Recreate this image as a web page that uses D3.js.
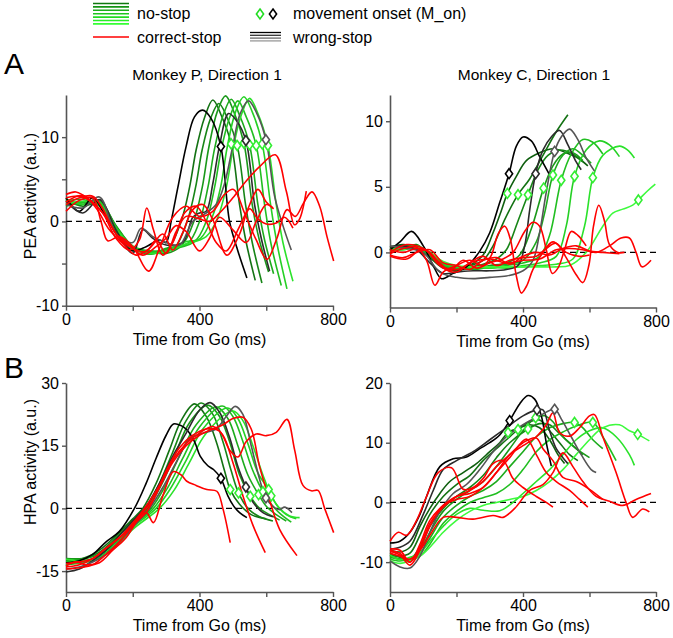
<!DOCTYPE html>
<html><head><meta charset="utf-8">
<script src="https://cdn.jsdelivr.net/npm/d3@7"></script>
<style>body{margin:0;background:#fff}svg{display:block}text{font-family:"Liberation Sans",Arial,sans-serif;fill:#000}</style>
</head><body><svg id="c" width="673" height="638"></svg>
<script>
// ---------------- DATA ----------------
const xTicks = [0, 200, 400, 600, 800];
const xTickLabels = [0, 400, 800];
const greenShades = ['#0f5f0f','#137213','#178517','#1a981a','#1dab1d','#21be21','#25d025','#2be22b','#3dfa3d'];
const grayShades = ['#000000','#2b2b2b','#555555'];
const legendGreen = ['#0f7a0f','#149414','#19ad19','#1ec61e','#22dd22','#28ee28','#33ff33'];
const legendGray = ['#000000','#333333','#666666','#999999'];

// Panel A left: PEA, Monkey P
const peaP_noStop = [
 [[0,2.2],[50,2],[100,2.4],[150,-0.5],[200,-3],[250,-3.8],[290,-3.5],[310,-3],[345,0],[370,4],[390,8.5],[415,12.3],[440,14.4],[465,12.6],[495,9.2],[520,2],[540,-2.5],[567,-7]],
 [[0,2.6],[50,1.8],[100,2.2],[150,-1],[200,-3.2],[250,-3.5],[300,-3.6],[328,-3],[363,0],[388,4],[408,8.5],[433,12.2],[458,14],[483,12.3],[513,9],[538,2],[558,-2.5],[587,-7.3]],
 [[0,1.8],[50,2.3],[100,2],[150,-0.8],[200,-3.4],[250,-3.6],[300,-3.8],[348,-2.8],[383,0],[408,4],[428,8.8],[453,13],[478,14.9],[503,13],[533,9.3],[558,2],[578,-2],[607,-6]],
 [[0,2.4],[50,2.6],[100,1.8],[150,-1.2],[200,-3.1],[250,-3.9],[300,-3.2],[365,-2.6],[400,0],[425,4],[445,8.6],[470,12.5],[495,14.5],[520,12.6],[550,9.1],[575,2],[595,-2.2],[622,-6.2]],
 [[0,2],[50,2.2],[100,2.5],[150,-0.6],[200,-2.9],[250,-3.5],[300,-3.4],[385,-2.4],[420,0],[445,4],[465,8.5],[490,12.3],[515,14.3],[540,12.4],[570,9],[595,2],[615,-2.8],[645,-7.6]],
 [[0,2.7],[50,2],[100,2.3],[150,-1],[200,-3.3],[250,-3.7],[300,-3.5],[350,-2.5],[403,-2],[438,0.5],[463,4],[483,8.8],[508,13],[533,14.8],[558,13],[588,9.2],[613,2],[633,-2.8],[662,-8]],
 [[0,2.1],[50,2.4],[100,2],[150,-0.9],[200,-3],[250,-3.8],[300,-3.6],[350,-2.8],[420,-1.8],[455,0.5],[480,4],[500,8.5],[525,12.6],[550,14.6],[575,12.8],[605,9],[630,2],[650,-2.5],[680,-7.1]]
];
const peaP_noStopOnset = [[495,9.2],[513,9.0],[533,9.3],[550,9.1],[570,9.0],[588,9.2],[605,9.0]];
const peaP_wrongStop = [
 [[0,2.8],[40,1.2],[80,2.8],[120,0.5],[160,-2],[200,-3.5],[240,-3],[280,-2.2],[300,-2.5],[315,0],[335,4],[360,8.9],[385,12.4],[409,13.2],[435,12.2],[464,8.9],[490,0],[515,-3.5],[542,-6.7]],
 [[0,2.4],[50,1],[100,2.6],[150,-1],[200,-3.8],[230,-1],[260,-2],[300,-2.8],[350,-2.5],[380,0.5],[400,1],[420,1.2],[440,4.5],[460,9],[487,12.8],[510,12],[539,9.6],[565,2],[585,-2],[610,-5.9]],
 [[0,2],[50,1.6],[100,2.9],[150,-1.5],[200,-2.5],[225,-0.8],[260,-1.8],[300,-2.5],[340,-2.8],[380,0],[420,1],[450,2],[475,4.5],[500,9],[522,12.8],[547,14.3],[572,12.8],[599,9.7],[625,3],[650,-0.5],[675,-3.4]]
];
const peaP_wrongStopOnset = [[464,8.9],[539,9.6],[599,9.7]];
const peaP_correctStop = [
 [[0,3.2],[30,3.5],[70,2.6],[110,1],[150,-2],[190,-3.4],[220,-2.2],[242,1.6],[262,-1],[290,-4],[320,-2.5],[355,1],[390,1.8],[420,0],[450,-2.5],[480,-3.5],[515,-1],[545,1.5],[575,3.8],[600,2.3],[622,1.5]],
 [[0,1.2],[40,2.5],[80,2.8],[105,0],[125,-2.3],[160,-1.8],[200,-3],[247,-5.9],[280,-3.2],[320,0.5],[360,1.8],[400,0.6],[440,1.2],[475,3.2],[502,3.8],[535,1],[570,-2.2],[602,-4.5],[632,-2],[662,1.4],[687,0.6],[712,2.2],[737,3.5],[760,1.8],[782,-1.8],[802,-4.7]],
 [[0,2.8],[40,3],[80,2.2],[120,0.5],[160,-2],[200,-3.2],[240,-3.6],[270,-2.2],[300,-3.8],[330,-1.2],[360,0.6],[400,0.3],[430,0],[460,1],[500,2.8],[540,4.8],[580,6.5],[627,7.9],[660,3.6],[685,-0.4],[700,0.3],[720,3.6]],
 [[0,2.3],[50,3.1],[90,1.6],[130,-1],[170,-2.6],[210,-4],[250,-3.2],[290,-1.5],[320,-3.4],[350,-1.3],[380,1.4],[410,2],[440,0.2],[482,-4],[520,-1.5],[550,1.5],[575,0.3],[600,-0.3],[630,-0.2],[655,0.5],[680,-0.8]],
 [[0,2],[40,2.8],[80,3],[110,1.5],[150,-1.5],[190,-2.8],[230,-4],[270,-3],[300,-2],[330,-0.5],[360,-1.2],[400,-3.5],[430,-2],[460,0.5],[500,-1],[540,-2.5],[570,0],[600,2],[620,1.6]]
];

// Panel A right: PEA, Monkey C
const peaC_noStop = [
 [[0,0.4],[40,0.6],[80,0.3],[120,-0.4],[160,-1.2],[200,-1.4],[240,-1],[280,-0.2],[310,1.5],[335,3.2],[353,4.5],[380,5.8],[410,7],[450,7.6],[490,7.9],[530,7.6],[565,7.2],[595,6.6]],
 [[0,0.2],[40,0.5],[80,0.5],[120,-0.2],[160,-1],[200,-1.3],[240,-1],[280,-0.6],[310,0.5],[345,2.5],[385,4.4],[420,5.6],[460,7.4],[500,9.2],[535,10.5]],
 [[0,0.3],[40,0.3],[80,0.6],[120,-0.3],[160,-1.1],[200,-1.2],[240,-1.1],[280,-0.9],[320,-0.5],[350,0.2],[385,2.4],[415,4.4],[445,6.3],[475,7.4],[510,7.8],[550,7.5],[580,6.9]],
 [[0,0.1],[40,0.4],[80,0.5],[120,-0.1],[160,-0.9],[200,-1.3],[250,-1.2],[300,-1],[350,-0.8],[390,-0.2],[425,1.8],[462,4.9],[490,6.6],[520,7.5],[550,7.6],[580,7]],
 [[0,0.2],[40,0.2],[80,0.4],[120,0],[160,-0.8],[200,-1.1],[250,-1.3],[300,-1.1],[350,-0.9],[400,-0.6],[440,0.8],[465,3],[490,5.9],[520,7.4],[550,7.9],[580,7.4],[605,6.8]],
 [[0,0.3],[40,0.5],[80,0.3],[120,-0.2],[160,-1],[200,-1.2],[250,-1.1],[300,-1.2],[350,-1],[400,-0.8],[450,-0.3],[480,1.3],[515,5.5],[545,7.5],[580,8.6],[610,8.4],[640,7.5]],
 [[0,0.2],[40,0.4],[80,0.4],[120,-0.1],[160,-0.9],[200,-1.1],[250,-1.2],[300,-1.1],[350,-1.2],[400,-1],[450,-0.8],[500,-0.3],[530,2],[555,5.8],[590,7.8],[630,8.5],[660,8.2],[690,7.3]],
 [[0,0.3],[40,0.3],[80,0.5],[120,0],[160,-0.8],[200,-1.1],[250,-1.1],[300,-1.2],[350,-1.1],[400,-1.1],[450,-1],[500,-0.9],[550,-0.5],[585,2],[610,5.7],[640,7.4],[690,8.1],[715,7.8],[735,7.2]],
 [[0,0.1],[40,0.2],[80,0.4],[120,0],[160,-0.7],[200,-1],[250,-1.1],[300,-1.1],[350,-1.1],[400,-1.1],[450,-1.1],[500,-1.1],[540,-1],[590,0],[640,2],[670,3],[700,3.3],[730,3.6],[747,4],[775,4.7],[798,5.2]]
];
const peaC_noStopOnset = [[353,4.5],[385,4.4],[415,4.4],[462,4.9],[490,5.9],[515,5.5],[555,5.8],[610,5.7],[747,4.0]];
const peaC_wrongStop = [
 [[0,0.2],[30,0.8],[65,1.6],[100,0.5],[130,-1],[155,-2],[190,-1.6],[230,-1.1],[270,0.1],[300,1.5],[330,3.8],[358,6],[380,8.1],[400,8.8],[425,8.5],[450,7.3],[478,6]],
 [[0,0.4],[40,0.5],[80,0.2],[120,-0.8],[160,-1.6],[200,-1.5],[250,-1.4],[300,-1.4],[350,-1.3],[385,-1],[405,0.5],[420,3.2],[438,6],[460,7.8],[485,8.8],[510,9.3],[535,8.2],[560,6.9],[575,6.3]],
 [[0,0.5],[50,0.3],[100,0],[150,-1.5],[200,-1.9],[250,-2],[300,-1.9],[350,-1.8],[400,-1.4],[430,-0.6],[450,1.5],[470,4.6],[495,7.7],[515,8.8],[540,9.4],[565,8.6],[590,7.2],[615,6.2]]
];
const peaC_wrongStopOnset = [[358,6.0],[438,6.0],[495,7.7]];
const peaC_correctStop = [
 [[0,-0.1],[40,0.3],[80,0.4],[110,-0.6],[135,-2.5],[160,-1.5],[200,-1],[240,-0.6],[280,-1],[305,-0.2],[325,1.4],[345,2],[362,1],[380,-1.8],[395,-3.1],[410,-2.6],[430,-1.3],[460,0],[490,0.8],[530,0],[570,-0.3],[600,-0.2]],
 [[0,0],[50,0.6],[100,0.3],[150,-0.8],[180,-1.4],[220,-0.6],[260,-1.2],[300,-0.8],[340,-0.5],[370,0],[405,1.6],[430,2.3],[450,2],[470,0.2],[488,-1.6],[505,-1.2],[525,0.2],[545,1.6],[565,1.3],[590,0.5]],
 [[0,0.2],[40,0],[80,0.3],[120,0],[160,-1.2],[200,-1.5],[240,-0.8],[280,-0.3],[320,-1],[360,-0.6],[400,-0.4],[440,-0.3],[470,0.3],[500,0.7],[530,-0.4],[560,-1.7],[580,-2.3],[598,-1],[612,2],[628,3.6],[645,2.4],[660,0.6],[685,0],[705,0]],
 [[0,-0.3],[50,-0.5],[100,0.3],[150,-1],[200,-1.3],[250,-0.7],[300,-0.5],[350,-0.8],[400,-0.6],[450,-0.5],[500,0.2],[540,0.3],[580,0.2],[620,0],[660,0.5],[695,1.1],[720,1.1],[740,0],[758,-1.1],[785,-0.6]],
 [[0,-0.2],[40,-0.4],[80,0],[120,0.2],[160,-0.8],[200,-1],[240,-1.3],[280,-0.6],[320,-0.4],[360,-0.9],[400,-0.3],[440,0],[480,-0.2],[520,0.3],[560,0.5],[600,0.1],[640,0],[690,-0.1]]
];

// Panel B left: HPA, Monkey P
const hpaP_noStop = [
 [[0,-12.5],[50,-12],[100,-10],[150,-6.5],[200,-2.5],[230,0],[270,6],[310,14],[345,21],[385,25],[420,22],[450,16],[475,9],[492,4.5],[520,1],[555,-1.5],[600,-2.5]],
 [[0,-13],[50,-12.3],[100,-10.5],[150,-7],[200,-3],[240,0],[280,6],[320,13.5],[360,21],[405,25.2],[440,22.5],[470,16],[495,9],[517,3.7],[545,0],[580,-2],[620,-3]],
 [[0,-12],[50,-12],[100,-11],[150,-8],[200,-3.5],[245,0],[285,5.5],[325,12.5],[370,20.5],[425,24.7],[460,22],[490,16],[520,8],[552,2.9],[580,0],[610,-1.5],[640,-2.8]],
 [[0,-13.5],[50,-12.8],[100,-11.3],[150,-8],[200,-4],[255,0],[295,5],[340,12.5],[390,20],[450,24.3],[485,21.5],[515,15],[545,8],[577,3.3],[600,0.5],[630,-1.5],[660,-3]],
 [[0,-12.8],[50,-12.5],[100,-11.6],[150,-8.5],[200,-4.2],[262,0],[305,5],[350,12],[400,19.5],[468,24.5],[500,22],[530,16],[560,9],[590,4],[615,1],[645,-1.5],[675,-3.3]],
 [[0,-13.2],[50,-13],[100,-12],[150,-9],[200,-4.5],[270,0],[315,5],[360,11.5],[410,19],[485,24],[515,21.5],[545,15.5],[575,8.5],[607,4.5],[630,1],[660,-1.5],[690,-2.5]],
 [[0,-12.2],[50,-12.5],[100,-11.8],[150,-9.2],[200,-5],[280,0],[325,4.5],[370,11],[420,18],[500,23.3],[530,21],[560,15],[590,8],[615,3],[640,0],[670,-1.8],[700,-2.2]]
];
const hpaP_noStopOnset = [[492,4.5],[517,3.7],[552,2.9],[577,3.3],[590,4],[607,4.5],[615,3]];
const hpaP_wrongStop = [
 [[0,-13],[40,-12.5],[80,-11],[120,-8],[160,-5.5],[205,0],[240,6],[270,12],[300,17.5],[322,20.2],[345,19.8],[362,18.8],[385,16],[402,12.5],[425,10.2],[442,9.3],[464,7.2],[485,3],[502,0.6],[520,-1],[542,-2.2]],
 [[0,-15.2],[40,-14.5],[80,-12.5],[120,-10],[160,-6.5],[200,-3],[240,0.5],[280,6],[320,12.5],[360,18],[400,23.5],[432,25.3],[460,23],[490,17],[515,10],[539,5.1],[560,1.5],[590,-1],[620,-2]],
 [[0,-14.5],[40,-14],[80,-12.8],[120,-11],[160,-8],[200,-4.5],[250,0],[290,5],[330,11],[370,16.5],[410,18],[450,19],[480,22],[507,24.4],[530,22.5],[555,15],[580,7],[599,2.5],[620,0.5],[640,-0.3],[655,0.3],[677,-1]]
];
const hpaP_wrongStopOnset = [[464,7.2],[539,5.1],[599,2.5]];
const hpaP_correctStop = [
 [[0,-14],[40,-13.5],[80,-12],[120,-9.5],[160,-7],[200,-4],[240,-1],[262,-3.4],[290,3],[322,8.8],[345,8],[362,6.5],[390,5.5],[422,4.5],[452,4.1],[470,0],[492,-8.2]],
 [[0,-13.2],[40,-12.8],[80,-12],[120,-9.5],[160,-7],[200,-3.5],[240,0.5],[280,5.5],[320,11.5],[360,15.5],[400,18],[440,19.6],[470,17.5],[500,11],[530,3],[560,-4],[597,-10.6]],
 [[0,-14.5],[40,-14.2],[80,-13.5],[120,-11],[160,-8],[200,-4],[240,-1],[280,5],[320,11],[360,15],[400,17.5],[440,19],[470,20],[500,21.5],[530,21.8],[555,19],[580,10],[610,2],[640,-5],[692,-11.3]],
 [[0,-13.8],[30,-12.8],[60,-13.5],[100,-13],[140,-10],[180,-7],[220,-2],[260,2],[300,9],[340,14.5],[380,17.5],[420,19],[460,18.5],[490,14],[515,12.3],[540,16],[570,17.8],[600,17.4],[630,18.2],[662,21.3],[685,14],[710,5.5],[735,4.2],[755,4.3],[775,0],[802,-5.8]]
];

// Panel B right: HPA, Monkey C
const hpaC_noStop = [
 [[0,-8],[30,-8.3],[60,-7.5],[90,-4],[120,-1],[150,1.5],[180,3.5],[220,5],[260,6.5],[300,8.5],[330,10],[355,11.7],[390,12.5],[420,13],[450,12.5],[480,10.5],[505,8],[525,6.5]],
 [[0,-8.8],[30,-9],[60,-8.5],[90,-5.5],[120,-2],[160,1],[200,3],[240,4.5],[280,7],[320,9],[350,10.5],[385,12.2],[420,13.5],[450,13.8],[480,12],[510,10],[540,8],[565,7]],
 [[0,-8.5],[30,-9.2],[60,-9.5],[90,-7.5],[120,-4],[160,-1],[200,1],[240,2.5],[280,4.5],[320,7.5],[360,10],[415,12.3],[450,13.2],[480,13],[510,11.5],[550,9.5],[580,8]],
 [[0,-9],[30,-9.5],[60,-9.8],[90,-8],[120,-5],[160,-1.5],[200,0.5],[240,2],[280,3.5],[320,6],[360,9],[400,12],[438,14.2],[465,14.5],[490,13.5],[520,11],[560,9],[600,7.5]],
 [[0,-9.2],[30,-9.5],[60,-9.7],[90,-8.5],[120,-6],[160,-2.5],[200,-0.5],[240,1],[280,2],[320,3.5],[360,6],[400,8.5],[440,11],[480,12.5],[520,13.2],[555,13.4],[580,12.5],[610,10.5],[640,9]],
 [[0,-9.5],[30,-9.8],[60,-9.5],[90,-9],[120,-7],[160,-3.5],[200,-1.5],[240,0],[280,0.8],[320,1.5],[360,3],[400,5.5],[440,8.5],[480,10.5],[520,11.8],[560,12.8],[610,13.4],[640,11],[680,7]],
 [[0,-8.8],[30,-9.6],[60,-9.2],[90,-8.5],[120,-6.5],[160,-4],[200,-2],[240,-1],[280,-1.3],[330,-1.4],[370,0],[400,1.5],[440,3.5],[480,5.5],[520,8],[560,10.5],[600,12],[640,12.5],[680,11],[720,8],[735,6.2]],
 [[0,-9.8],[30,-10.2],[60,-9.8],[90,-9],[120,-7.5],[160,-5],[200,-3],[240,-1.5],[280,-0.5],[320,0],[360,0.5],[400,1],[440,2],[480,3.5],[520,5.5],[560,8],[600,10.5],[640,12.5],[690,13],[720,12],[745,11.4],[780,10.3]]
];
const hpaC_noStopOnset = [[355,11.7],[385,12.2],[415,12.3],[438,14.2],[555,13.4],[610,13.4],[745,11.4]];
const hpaC_wrongStop = [
 [[0,-6.8],[30,-6.5],[60,-5],[90,-2],[110,1],[150,6],[190,7.3],[230,7.6],[270,9],[300,10],[330,11.3],[360,13.7],[390,16.5],[415,17.9],[435,17.3],[455,14.5],[470,10],[485,6.1]],
 [[0,-7.8],[30,-7.5],[60,-6.5],[100,-2],[130,2],[160,5.5],[200,7],[250,8.5],[300,10.5],[350,12.5],[400,14.5],[442,15.5],[460,15.5],[480,12],[500,9],[520,7.5],[535,6.5]],
 [[0,-9.8],[30,-10.8],[60,-11],[90,-9],[120,-5],[150,-1.5],[190,1.5],[230,3],[270,5.5],[310,8.5],[350,11],[400,13],[450,14.5],[495,15.6],[515,14],[545,11],[575,8],[605,5.5],[620,5]]
];
const hpaC_wrongStopOnset = [[360,13.7],[442,15.5],[495,15.6]];
const hpaC_correctStop = [
 [[0,-6.5],[25,-5],[50,-5.5],[80,-3],[110,1],[145,5],[185,5.8],[220,2.2],[250,2.5],[280,4],[310,6.5],[340,7],[370,4],[400,2.5],[440,1],[470,0],[490,-0.8]],
 [[0,-8],[30,-8.5],[60,-10],[90,-7],[120,-3],[160,-0.5],[200,1],[240,1.5],[280,2.5],[320,5],[360,8],[400,9.5],[440,11],[470,13],[490,15],[510,11.7],[540,11.1],[570,12.5],[600,14.5],[615,14.7],[640,11],[680,5],[710,0],[730,-2.5],[760,-1.1],[780,-1.6]],
 [[0,-8.2],[30,-8.8],[60,-10.5],[90,-8],[120,-4],[160,-0.5],[200,0.5],[240,1],[280,2.5],[320,5],[360,7.5],[410,10.6],[440,8],[470,5],[500,3.5],[540,2],[570,0.5],[595,-0.8]],
 [[0,-8.5],[30,-9],[60,-9.5],[90,-8],[120,-5.5],[160,-2.5],[200,-2.5],[250,-2.8],[310,-2.2],[340,-2.5],[375,-1],[420,2],[460,3],[490,5],[520,8.3],[550,6],[580,3.5],[620,1],[660,0.2],[700,-0.5],[740,0.5],[785,1.5]],
 [[0,-7.8],[30,-8],[60,-10],[90,-7.5],[120,-3.5],[160,-0.8],[200,1],[240,2],[280,3.5],[320,6],[360,8],[400,10],[440,10.8],[460,9],[490,7],[520,4.2],[560,3.5],[600,2.2],[640,0.5]]
];

// ---------------- DRAW ----------------
const svg = d3.select('#c');
const FS = 16;
const FONT = '"Liberation Sans",Arial,sans-serif';

function drawPanel(p) {
  const x = d3.scaleLinear().domain([0, 800]).range(p.xr);
  const y = d3.scaleLinear().domain(p.yd).range(p.yr);
  const g = svg.append('g');
  const line = d3.line().x(d => x(d[0])).y(d => y(d[1])).curve(d3.curveCatmullRom.alpha(0.5));

  const xa = g.append('g').attr('transform', `translate(0,${p.yr[0]})`)
    .call(d3.axisBottom(x).tickValues(xTicks).tickFormat(d => xTickLabels.includes(d) ? d : '')
      .tickSize(5).tickSizeOuter(0).tickPadding(3));
  const ya = g.append('g').attr('transform', `translate(${p.xr[0]},0)`)
    .call(d3.axisLeft(y).tickValues(p.yt).tickFormat(d => p.yl.includes(d) ? d : '')
      .tickSize(4).tickSizeOuter(0).tickPadding(3));
  [xa, ya].forEach(a => {
    a.select('.domain').attr('stroke', '#555').attr('stroke-width', 1.6);
    a.selectAll('.tick line').attr('stroke', '#555').attr('stroke-width', 1.4);
    a.selectAll('.tick text').attr('font-size', FS).attr('font-family', FONT).attr('fill', '#000');
  });

  g.append('line').attr('x1', x(0)).attr('x2', x(800)).attr('y1', y(0)).attr('y2', y(0))
    .attr('stroke', '#000').attr('stroke-width', 1.2).attr('stroke-dasharray', '6,4');

  p.noStop.forEach((c, i) => g.append('path').attr('d', line(c)).attr('fill', 'none')
    .attr('stroke', p.greens[i]).attr('stroke-width', 1.6));
  p.wrong.forEach((c, i) => g.append('path').attr('d', line(c)).attr('fill', 'none')
    .attr('stroke', grayShades[i]).attr('stroke-width', 1.6));
  p.correct.forEach(c => g.append('path').attr('d', line(c)).attr('fill', 'none')
    .attr('stroke', '#ff0000').attr('stroke-width', 1.6));

  const dia = 'M0,-5L3.6,0L0,5L-3.6,0Z';
  p.noStopOn.forEach(d => g.append('path').attr('d', dia)
    .attr('transform', `translate(${x(d[0])},${y(d[1])})`)
    .attr('fill', '#fff').attr('stroke', '#33ee33').attr('stroke-width', 1.6));
  p.wrongOn.forEach((d, i) => g.append('path').attr('d', dia)
    .attr('transform', `translate(${x(d[0])},${y(d[1])})`)
    .attr('fill', '#fff').attr('stroke', grayShades[i]).attr('stroke-width', 1.6));

  g.append('text').attr('x', (p.xr[0] + p.xr[1]) / 2).attr('y', p.yr[0] + 39)
    .attr('text-anchor', 'middle').attr('font-size', FS).text('Time from Go (ms)');
  if (p.title) g.append('text').attr('x', p.titleX).attr('y', 80)
    .attr('text-anchor', 'middle').attr('font-size', 15.5).text(p.title);
  if (p.ylabel) g.append('text').attr('transform', `translate(36,${p.ylabelY}) rotate(-90)`)
    .attr('text-anchor', 'middle').attr('font-size', FS).text(p.ylabel);
}

const greensP = greenShades.slice(1, 8);
drawPanel({xr: [66, 333], yd: [-10, 15], yr: [305.7, 95], yt: [-10, -5, 0, 5, 10], yl: [-10, 0, 10],
  noStop: peaP_noStop, noStopOn: peaP_noStopOnset, wrong: peaP_wrongStop, wrongOn: peaP_wrongStopOnset,
  correct: peaP_correctStop, greens: greensP, title: 'Monkey P, Direction 1', titleX: 207,
  ylabel: 'PEA activity (a.u.)', ylabelY: 196});
drawPanel({xr: [390, 656], yd: [-4.2, 12], yr: [307.5, 95], yt: [0, 5, 10], yl: [0, 5, 10],
  noStop: peaC_noStop, noStopOn: peaC_noStopOnset, wrong: peaC_wrongStop, wrongOn: peaC_wrongStopOnset,
  correct: peaC_correctStop, greens: greenShades, title: 'Monkey C, Direction 1', titleX: 534});
drawPanel({xr: [66, 333], yd: [-20, 30], yr: [592, 383], yt: [-15, 0, 15, 30], yl: [-15, 0, 15, 30],
  noStop: hpaP_noStop, noStopOn: hpaP_noStopOnset, wrong: hpaP_wrongStop, wrongOn: hpaP_wrongStopOnset,
  correct: hpaP_correctStop, greens: greensP, ylabel: 'HPA activity (a.u.)', ylabelY: 462});
drawPanel({xr: [390, 656], yd: [-15, 20], yr: [592, 383], yt: [-10, 0, 10, 20], yl: [-10, 0, 10, 20],
  noStop: hpaC_noStop, noStopOn: hpaC_noStopOnset, wrong: hpaC_wrongStop, wrongOn: hpaC_wrongStopOnset,
  correct: hpaC_correctStop, greens: greenShades.slice(0, 6).concat(greenShades.slice(7, 9))});

svg.append('text').attr('x', 4).attr('y', 74).attr('font-size', 30).text('A');
svg.append('text').attr('x', 4).attr('y', 378).attr('font-size', 30).text('B');

const lg = svg.append('g');
legendGreen.forEach((c, i) => lg.append('line').attr('x1', 93).attr('x2', 129)
  .attr('y1', 3.5 + i * 3.4).attr('y2', 3.5 + i * 3.4).attr('stroke', c).attr('stroke-width', 1.6));
lg.append('line').attr('x1', 93).attr('x2', 129).attr('y1', 37).attr('y2', 37).attr('stroke', '#ff0000').attr('stroke-width', 1.6);
legendGray.forEach((c, i) => lg.append('line').attr('x1', 250).attr('x2', 281)
  .attr('y1', 32.5 + i * 2.8).attr('y2', 32.5 + i * 2.8).attr('stroke', c).attr('stroke-width', 1.3));
const diaL = 'M0,-5L3.6,0L0,5L-3.6,0Z';
lg.append('path').attr('d', diaL).attr('transform', 'translate(260,14)').attr('fill', '#fff').attr('stroke', '#22dd22').attr('stroke-width', 1.6);
lg.append('path').attr('d', diaL).attr('transform', 'translate(273,14)').attr('fill', '#fff').attr('stroke', '#000').attr('stroke-width', 1.6);
lg.append('text').attr('x', 137).attr('y', 19).attr('font-size', FS).text('no-stop');
lg.append('text').attr('x', 137).attr('y', 43).attr('font-size', FS).text('correct-stop');
lg.append('text').attr('x', 293).attr('y', 19).attr('font-size', FS).text('movement onset (M_on)');
lg.append('text').attr('x', 293).attr('y', 43).attr('font-size', FS).text('wrong-stop');
</script></body></html>
